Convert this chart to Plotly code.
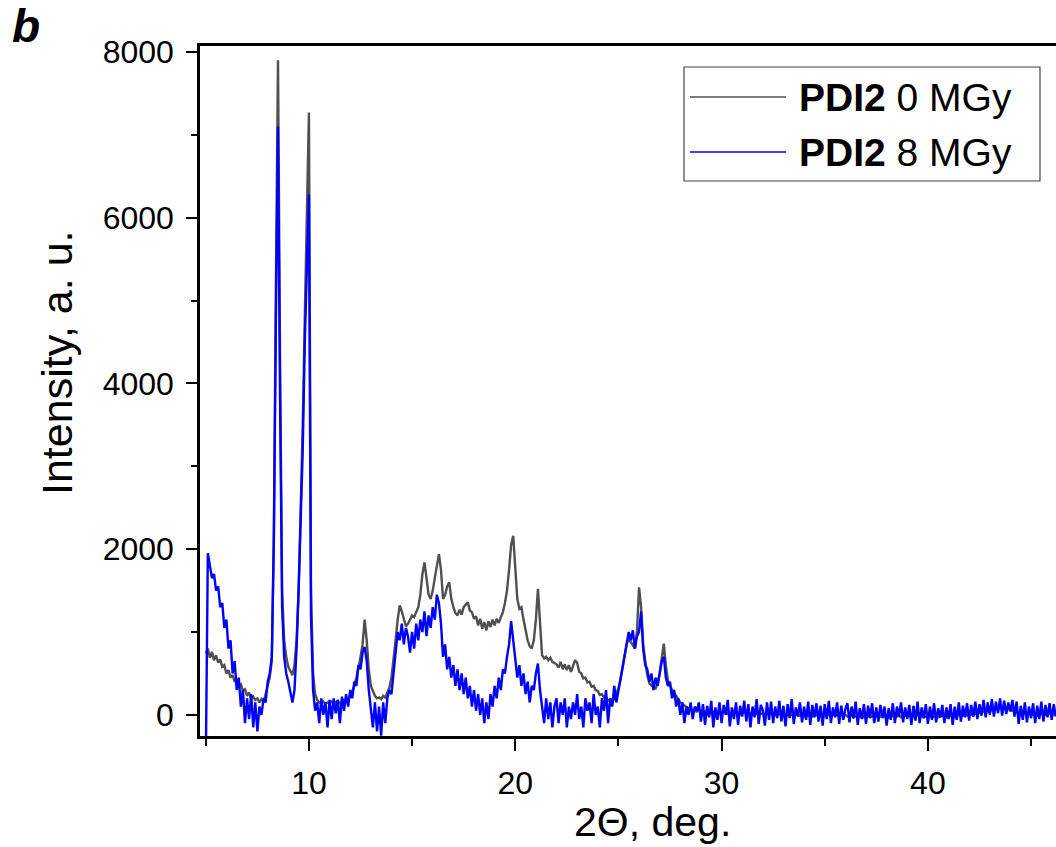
import numpy as np
import plotly.graph_objects as go

# 2-theta scan grid start/step (deg)
scan_start = 5.0
scan_step = 0.1

# PDI2, 0 MGy (intensity, a.u.), one row per degree
pdi2_0mgy = [
    740, 800, 690, 760, 660, 720, 630, 670, 580, 600,
    500, 540, 450, 480, 400, 430, 350, 370, 290, 310,
    230, 270, 190, 220, 180, 200, 150, 190, 150, 240,
    350, 450, 650, 2200, 5200, 7900, 4300, 1500, 900, 700,
    580, 520, 480, 600, 900, 1500, 2400, 3500, 4800, 6100,
    7270, 1500, 500, 250, 180, 150, 140, 160, 130, 150,
    140, 160, 130, 150, 170, 140, 150, 180, 160, 190,
    220, 280, 350, 450, 560, 700, 850, 1150, 900, 550,
    350, 280, 230, 200, 210, 190, 230, 210, 260, 330,
    450, 650, 900, 1150, 1320, 1250, 1150, 1070, 1100, 1150,
    1200, 1180, 1250, 1300, 1450, 1700, 1840, 1650, 1450, 1400,
    1500, 1650, 1800, 1940, 1750, 1400, 1450, 1550, 1600, 1400,
    1300, 1230, 1200, 1270, 1210, 1300, 1330, 1360, 1260, 1240,
    1160, 1190, 1080, 1160, 1040, 1120, 1020, 1130, 1060, 1150,
    1080, 1160, 1110, 1190, 1240, 1350, 1500, 1750, 2050, 2160,
    1800, 1400, 1280, 1300, 1150, 1000, 900, 830, 800, 900,
    1150, 1520, 1100, 720, 680, 700, 660, 690, 640, 620,
    610, 570, 640, 550, 610, 540, 600, 520, 580, 660,
    630, 520, 500, 440, 450, 390, 400, 340, 350, 300,
    290, 240, 250, 210, 220, 170, 180, 140, 200, 250,
    320, 420, 550, 700, 850, 920, 880, 850, 800, 1000,
    1540, 1300, 850, 650, 480, 380, 350, 330, 320, 380,
    500, 700, 860, 600, 420, 350, 300, 260, 230, 180,
    150, 130, 110, 90, 70, 60, 60, 50, 40, 60,
    30, 20, 40, 10, 30, 20, 40, 30, 10, 30,
    20, 40, 30, 10, 0, 30, 40, 20, 30, 10,
    20, 30, 10, 0, 20, 30, 10, 20, 0, 10,
    20, 0, 10, 30, 10, -10, 0, 20, 10, 0,
    10, -10, 0, 20, 0, -20, 10, 0, -10, 0,
    -20, 0, -10, 10, -20, -10, 0, -20, -10, 0,
    -10, 10, 0, -20, 0, 10, -10, 0, 10, -10,
    0, -20, -10, 0, -30, -10, 0, -20, -10, -30,
    -20, -10, -30, -20, 0, -10, -30, -20, -10, -20,
    -10, -30, -20, -10, 0, -20, -10, -30, -20, -10,
    -20, -10, -30, -20, -10, 0, -20, -10, -30, -20,
    -10, -20, -30, -20, -10, -30, -20, -10, -20, -30,
    -20, -10, -20, -30, -10, 0, -20, -10, 0, -10,
    0, 10, -10, 20, 10, 30, 20, 40, 30, 50,
    40, 60, 50, 70, 60, 80, 70, 90, 80, 70,
    60, 50, 40, 30, 20, 30, 10, 20, 0, 10,
    20, 0, 10, -10, 0, 10, 20, 0, 10, 20,
    10, 0, 20,
]

# PDI2, 8 MGy (intensity, a.u.)
pdi2_8mgy = [
    -600, 1950, 1800, 1650, 1700, 1500, 1550, 1300, 1350, 1050,
    1150, 800, 900, 500, 650, 300, 450, 100, 300, -100,
    200, -50, 250, -150, 150, -200, 100, 0, 200, 150,
    400, 500, 700, 2100, 4800, 7100, 3800, 1300, 700, 500,
    400, 250, 150, 300, 800, 1500, 2300, 3200, 4500, 5400,
    6280, 1200, 300, 50, 150, -100, 200, 0, 150, -150,
    180, -50, 200, 20, 180, -100, 220, 50, 250, 100,
    300, 200, 400, 350, 600, 550, 750, 820, 650, 300,
    100, -150, 150, -200, 100, -250, 150, -100, 200, 300,
    250, 500, 700, 1000, 900, 1100, 850, 1050, 950, 750,
    1000, 800, 1100, 900, 1150, 1000, 1250, 950, 1200, 1050,
    1300, 1150, 1450, 1350, 1100, 700, 850, 550, 700, 450,
    600, 350, 550, 300, 500, 250, 450, 200, 350, 100,
    300, 50, 250, 0, 200, -100, 150, -50, 250, 100,
    350, 200, 450, 300, 550, 500, 700, 850, 1130, 900,
    700, 450, 600, 350, 500, 250, 400, 150, 350, 300,
    500, 620, 300, 100, -100, 200, -50, 150, -150, 100,
    200, -100, 150, 0, 200, -150, 100, -50, 150, 0,
    250, -50, 100, -150, 200, 50, 150, -100, 250, 0,
    100, -150, 200, 50, 300, -100, 200, 100, 350, 150,
    300, 400, 550, 700, 850, 1000, 900, 1020, 800, 950,
    1000, 1250, 800, 600, 550, 400, 500, 300, 450, 350,
    500, 650, 700, 450, 350, 400, 200, 300, 100, 200,
    0, 150, -100, 100, 0, 150, -50, 100, 50, 150,
    -80, 130, -120, 110, -30, 170, -150, 90, -60, 150,
    -100, 120, 0, 180, -140, 90, -50, 150, -120, 110,
    -20, 170, -80, 130, -150, 100, -30, 190, -110, 120,
    60, -130, 150, -60, 160, -100, 100, -40, 170, -80,
    110, -140, 130, -40, 190, -110, 90, -20, 150, -90,
    100, -60, 160, -120, 120, -30, 140, -80, 110, -130,
    130, -50, 170, -100, 90, -30, 150, -110, 110, -60,
    70, 140, -90, 100, -40, 160, -120, 80, -50, 130,
    -110, 110, -30, 140, -100, 90, -80, 120, -40, 100,
    -130, 80, -60, 140, -100, 100, -20, 150, -90, 90,
    -50, 120, -120, 110, -70, 160, -100, 90, -40, 130,
    -110, 100, -60, 140, -90, 80, -30, 120, -100, 90,
    -50, 130, -120, 100, -60, 150, -80, 110, -30, 140,
    -70, 120, -20, 160, -50, 130, -10, 180, -30, 150,
    0, 190, -20, 160, 20, 200, -10, 170, 10, 150,
    40, 180, -20, 160, -110, 110, -60, 150, -90, 100,
    -40, 140, -100, 110, -50, 160, -80, 120, -30, 140,
    -60, 130, -20,
]

series_names = ["0 MGy", "8 MGy"]
x_ticks = [10, 20, 30, 40]
y_ticks = [0, 2000, 4000, 6000, 8000]


def grid(n):
    return np.round(scan_start + scan_step * np.arange(n), 2)


FONT = "Liberation Sans, Arial, sans-serif"
GRAY = "#505050"
BLUE = "#0000FF"

fig = go.Figure()
fig.add_trace(go.Scatter(x=grid(len(pdi2_0mgy)), y=pdi2_0mgy, mode="lines",
                         line=dict(color=GRAY, width=2.4), showlegend=False,
                         name="PDI2 " + series_names[0]))
fig.add_trace(go.Scatter(x=grid(len(pdi2_8mgy)), y=pdi2_8mgy, mode="lines",
                         line=dict(color=BLUE, width=2.4), showlegend=False,
                         name="PDI2 " + series_names[1]))

L, T, B = 200, 46, 736
W, H = 1056, 847
PW, PH = W - L, B - T


def px(xp):
    return (xp - L) / PW


def py(yp):
    return (B - yp) / PH


fig.update_layout(
    width=W, height=H,
    margin=dict(l=L, r=0, t=T, b=H - B, pad=0),
    paper_bgcolor="white", plot_bgcolor="white",
    font=dict(family=FONT, color="black", size=32),
    showlegend=False,
)
fig.update_xaxes(
    range=[4.72, 46.21], tickvals=x_ticks, ticks="outside", ticklen=12, tickwidth=2,
    tickcolor="black", showline=True, linecolor="black", linewidth=2.5, mirror=True,
    showgrid=False, zeroline=False, tickfont=dict(size=32, family=FONT),
    minor=dict(tickvals=[5, 15, 25, 35, 45], ticks="outside", ticklen=7, tickwidth=2,
               tickcolor="black", showgrid=False),
    ticklabelstandoff=5,
)
fig.update_yaxes(
    range=[-255, 8072], tickvals=y_ticks, ticks="outside", ticklen=11, tickwidth=2,
    tickcolor="black", showline=True, linecolor="black", linewidth=2.5, mirror=False,
    showgrid=False, zeroline=False, tickfont=dict(size=32, family=FONT),
    minor=dict(tickvals=[1000, 3000, 5000, 7000], ticks="outside", ticklen=6, tickwidth=2,
               tickcolor="black", showgrid=False),
    ticklabelstandoff=6,
)

# axis titles
fig.add_annotation(xref="paper", yref="paper", x=px(652), y=py(822),
                   text="2\u0398, deg.", showarrow=False, font=dict(size=41, family=FONT),
                   xanchor="center", yanchor="middle")
fig.add_annotation(xref="paper", yref="paper", x=px(57), y=py(363),
                   text="Intensity, a. u.", showarrow=False, textangle=-90,
                   font=dict(size=43, family=FONT), xanchor="center", yanchor="middle")
# panel label
fig.add_annotation(xref="paper", yref="paper", x=px(10), y=py(26),
                   text="<b><i>b</i></b>", showarrow=False,
                   font=dict(size=46, family=FONT), xanchor="left", yanchor="middle")

# legend box
fig.add_shape(type="rect", xref="paper", yref="paper",
              x0=px(684), x1=px(1040), y0=py(181), y1=py(67),
              line=dict(color="#444444", width=1.2), fillcolor="white", layer="above")
for yy, col, nm in [(97, GRAY, series_names[0]), (152, BLUE, series_names[1])]:
    fig.add_shape(type="line", xref="paper", yref="paper",
                  x0=px(690), x1=px(786), y0=py(yy), y1=py(yy),
                  line=dict(color=col, width=1.3), layer="above")
    fig.add_annotation(xref="paper", yref="paper", x=px(797), y=py(yy),
                       text="<b>PDI2</b> " + nm, showarrow=False,
                       font=dict(size=39, family=FONT), xanchor="left", yanchor="middle")

fig.write_html("out.html", config={"displayModeBar": False},
               post_script="document.body.style.margin='0';document.body.style.overflow='hidden';")
